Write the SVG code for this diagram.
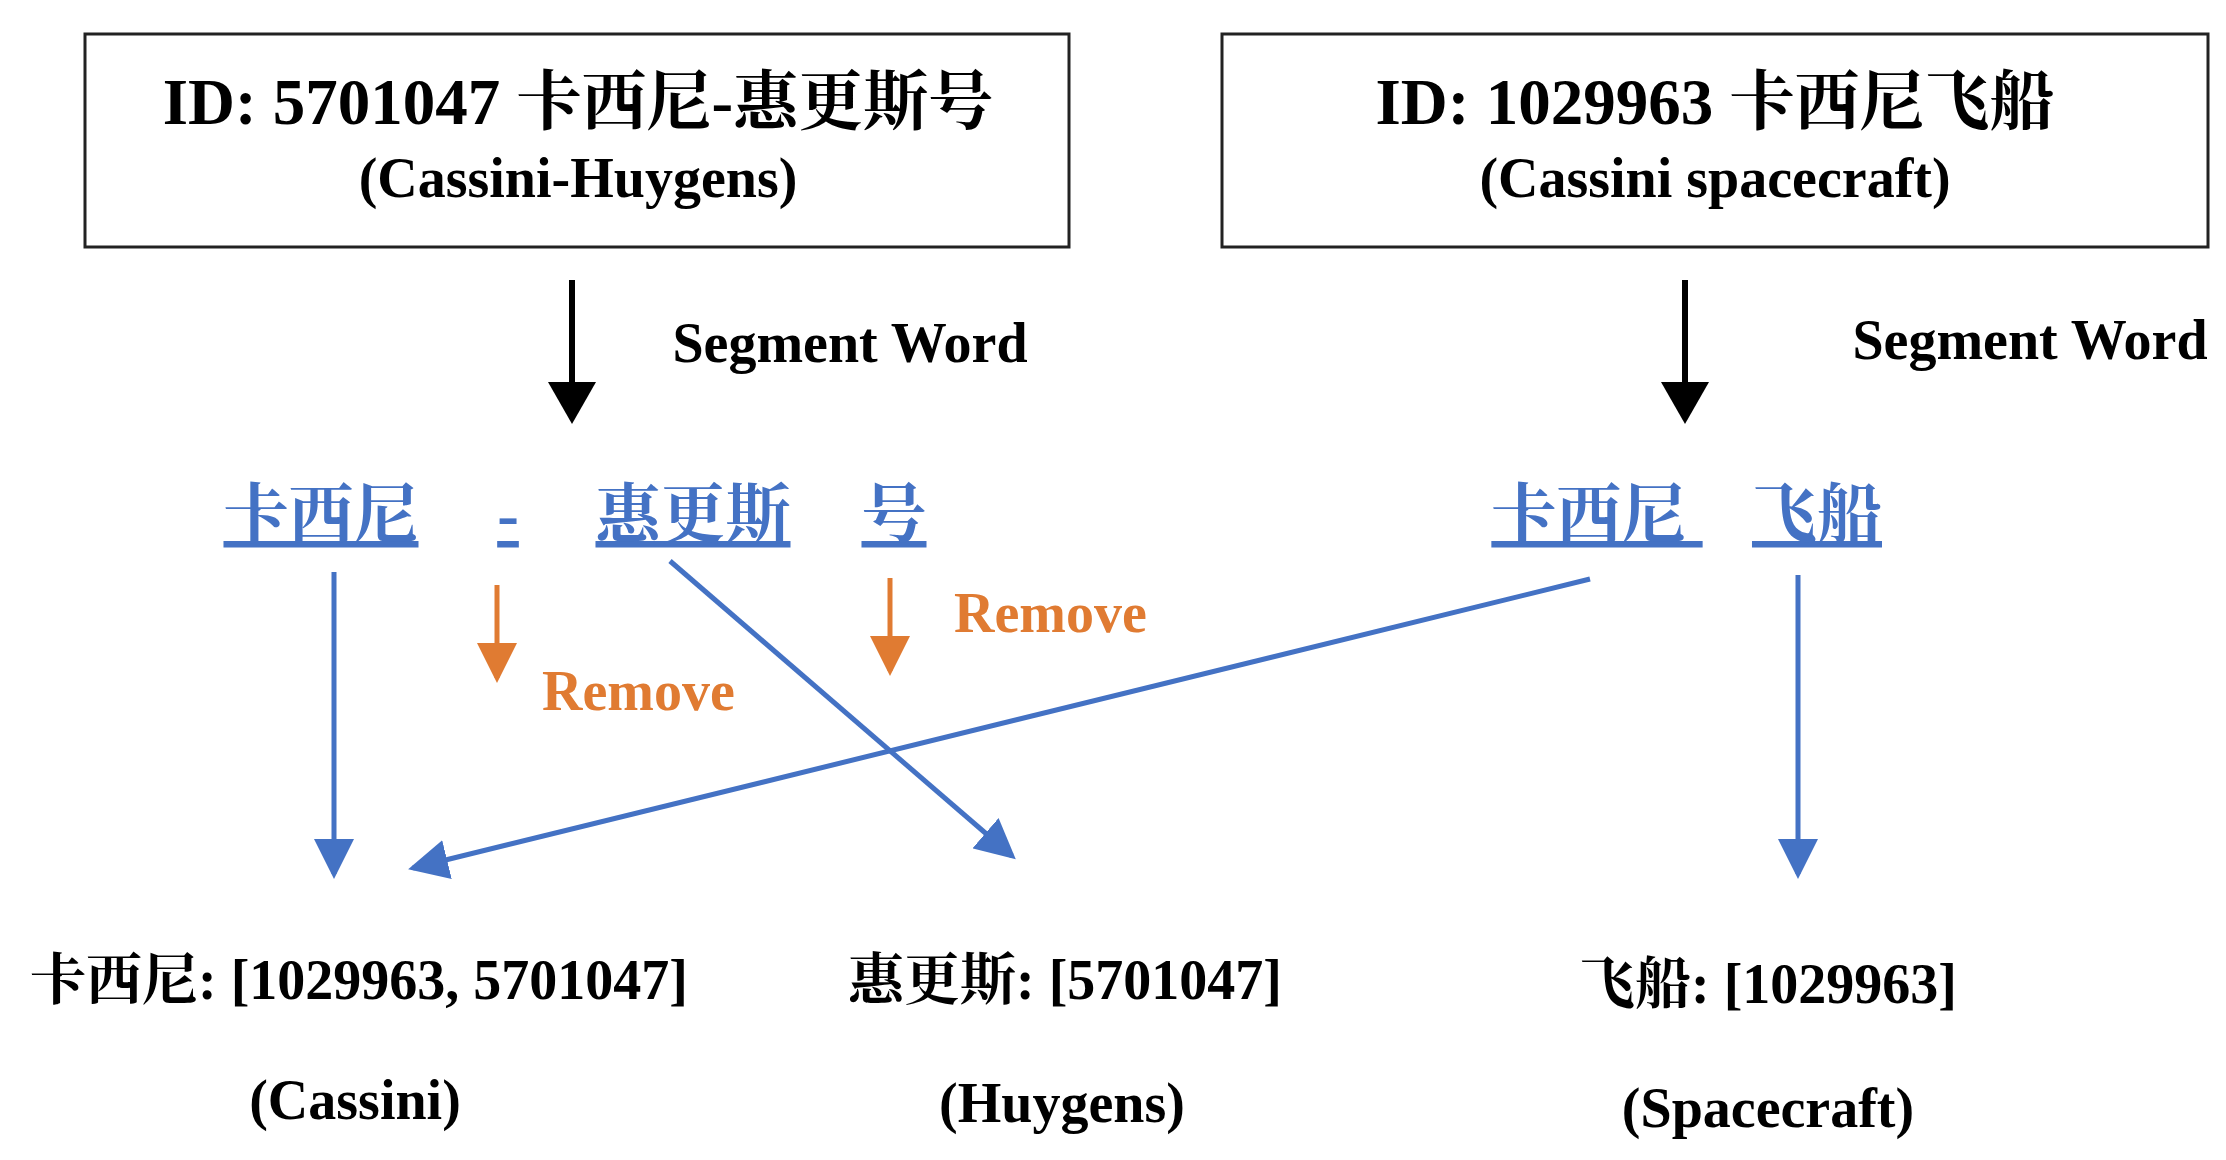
<svg xmlns="http://www.w3.org/2000/svg" width="2226" height="1160" viewBox="0 0 2226 1160">
<style>
text{font-family:"Liberation Serif","Noto Serif CJK SC","Noto Sans CJK SC",serif;font-weight:bold;text-anchor:middle}
.t{font-size:65px}.s{font-size:56px}.w{font-size:65px;fill:#4472C4;text-decoration:underline}
.r{font-size:56px;fill:#E07B32;text-anchor:start}.b{font-size:56px}
.box{fill:#fff;stroke:#222;stroke-width:3}
</style>
<defs>
<marker id="ak" markerWidth="8" markerHeight="8" refX="6" refY="4" orient="auto" markerUnits="strokeWidth"><path d="M0,0L7,4L0,8z" fill="#000"/></marker>
<marker id="ab" markerWidth="10" markerHeight="8" refX="7" refY="4" orient="auto" markerUnits="strokeWidth"><path d="M0,0L8,4L0,8z" fill="#4472C4"/></marker>
<marker id="ao" markerWidth="10" markerHeight="8" refX="7" refY="4" orient="auto" markerUnits="strokeWidth"><path d="M0,0L8,4L0,8z" fill="#E07B32"/></marker>
</defs>
<g id="box1"><rect class="box" x="85" y="34" width="984" height="213"/><text class="t" x="578" y="124">ID: 5701047 卡西尼-惠更斯号</text><text class="s" x="578" y="197">(Cassini-Huygens)</text></g>
<g id="box2"><rect class="box" x="1222" y="34" width="986" height="213"/><text class="t" x="1715" y="124">ID: 1029963 卡西尼飞船</text><text class="s" x="1715" y="197">(Cassini spacecraft)</text></g>
<g id="labels"><text class="s" x="850" y="362">Segment Word</text><text class="s" x="2030" y="359">Segment Word</text>
<text class="r" x="542" y="710">Remove</text><text class="r" x="954" y="632">Remove</text></g>
<g id="words"><text class="w" x="321" y="537">卡西尼</text><text class="w" x="508" y="537">-</text><text class="w" x="693" y="537">惠更斯</text><text class="w" x="894" y="537">号</text>
<text class="w" x="1597" y="537" xml:space="preserve">卡西尼 </text><text class="w" x="1817" y="537">飞船</text></g>
<g id="results">
<text class="b" x="359" y="999">卡西尼: [1029963, 5701047]</text><text class="b" x="355" y="1119">(Cassini)</text>
<text class="b" x="1065" y="999">惠更斯: [5701047]</text><text class="b" x="1062" y="1122">(Huygens)</text>
<text class="b" x="1768" y="1003">飞船: [1029963]</text><text class="b" x="1768" y="1127">(Spacecraft)</text></g>
<g id="connectors" fill="none">
<line x1="572" y1="280" x2="572" y2="418" stroke="#000" stroke-width="6" marker-end="url(#ak)"/>
<line x1="1685" y1="280" x2="1685" y2="418" stroke="#000" stroke-width="6" marker-end="url(#ak)"/>
<line x1="497" y1="585" x2="497" y2="678" stroke="#E07B32" stroke-width="5" marker-end="url(#ao)"/>
<line x1="890" y1="578" x2="890" y2="671" stroke="#E07B32" stroke-width="5" marker-end="url(#ao)"/>
<g stroke="#4472C4" stroke-width="5" marker-end="url(#ab)">
<line x1="334" y1="572" x2="334" y2="874"/>
<line x1="670" y1="561" x2="1012" y2="856"/>
<line x1="1590" y1="579" x2="413" y2="868"/>
<line x1="1798" y1="575" x2="1798" y2="874"/></g>
</g>
</svg>
